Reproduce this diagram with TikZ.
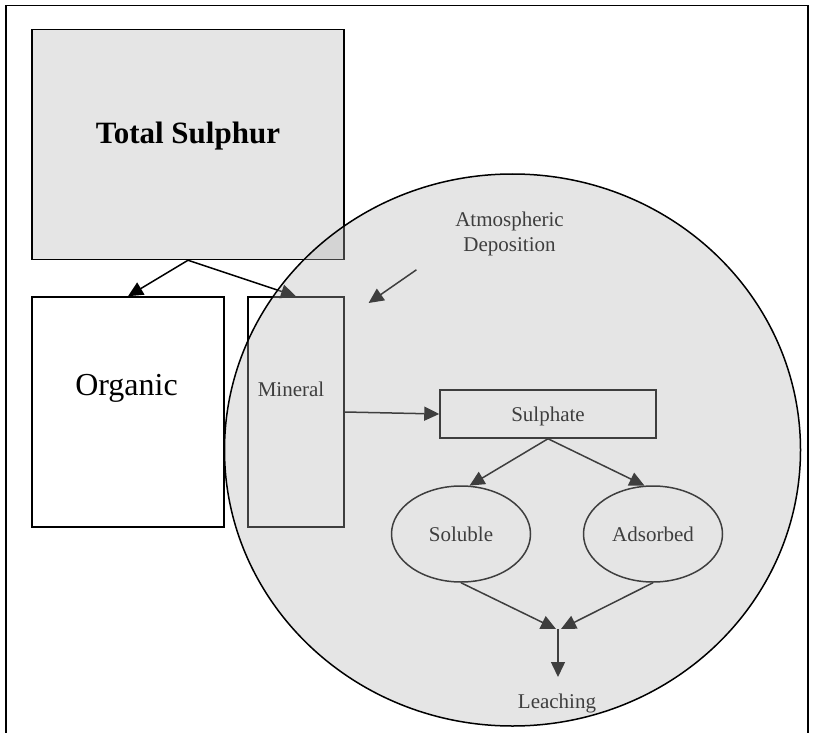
\documentclass[tikz,border=0pt]{standalone}
\usepackage{fontspec}
\setmainfont{Liberation Serif}
\usetikzlibrary{arrows.meta,shapes.geometric,positioning}
\definecolor{boxgray}{gray}{0.898}
\definecolor{ringgray}{gray}{0.706}

\begin{document}
\begin{tikzpicture}[x=1pt,y=-1pt,
    box/.style={draw, line width=1.5pt, rectangle, inner sep=0pt},
    pool/.style={draw, line width=1.5pt, ellipse, inner sep=0pt,
        minimum width=139pt, minimum height=96pt},
    flow/.style={line width=1.5pt, -{Triangle[length=15pt,width=14pt]}},
    txt/.style={font=\fontsize{21}{25}\selectfont, align=center}]
\useasboundingbox (0,0) rectangle (814,733);

% Outer frame (open at the bottom)
\draw[line width=1.8pt] (6,733) -- (6,5.5) -- (808,5.5) -- (808,733);

% Boxes
\node[box, fill=boxgray, minimum width=312pt, minimum height=230pt] (total) at (188,144.5) {};
\node[box, minimum width=192pt, minimum height=230pt] (organic) at (128,412) {};
\node[box, minimum width=96pt, minimum height=230pt] (mineral) at (296,412) {};
\node[box, txt, text depth=0pt, minimum width=216pt, minimum height=48pt] (sulphate) at (548,414) {Sulphate};

% Pools
\node[pool, txt] (soluble) at (461,534) {Soluble};
\node[pool, txt] (adsorbed) at (653,534) {Adsorbed};

% Texts
\node[anchor=base, font=\fontsize{31}{36}\selectfont\bfseries] (totaltext) at (188,144) {Total Sulphur};
\node[anchor=base, font=\fontsize{32}{36}\selectfont] (organictext) at (126.5,395.5) {Organic};
\node[anchor=base, txt] (mineraltext) at (291,396.7) {Mineral};
\node[txt] (deposition) at (509.5,234.4) {Atmospheric\\Deposition};
\node[anchor=base, txt] (leaching) at (557,708.3) {Leaching};

% Free ends
\coordinate (depfrom) at (416.4,269.8);
\coordinate (depto) at (368.6,303);
\coordinate (join) at (558,629);
\coordinate (out) at (558,677);

% Connectors
\draw[flow] (total.south) -- (organic.north);
\draw[flow] (total.south) -- (mineral.north);
\draw[flow] (depfrom) -- (depto);
\draw[flow] (mineral.east) -- (sulphate.west);
\draw[flow] (sulphate.south) -- (soluble.80);
\draw[flow] (sulphate.south) -- (adsorbed.100);
\draw[flow] (soluble.south) -- ([xshift=-2pt]join);
\draw[flow] (adsorbed.south) -- ([xshift=3pt]join);
\draw[flow] (join) -- (out);

% Soil circle laid over everything
\draw[line width=1.5pt, fill=ringgray, fill opacity=0.346] (512.5,450) ellipse [x radius=288pt, y radius=276pt];

\end{tikzpicture}
\end{document}
